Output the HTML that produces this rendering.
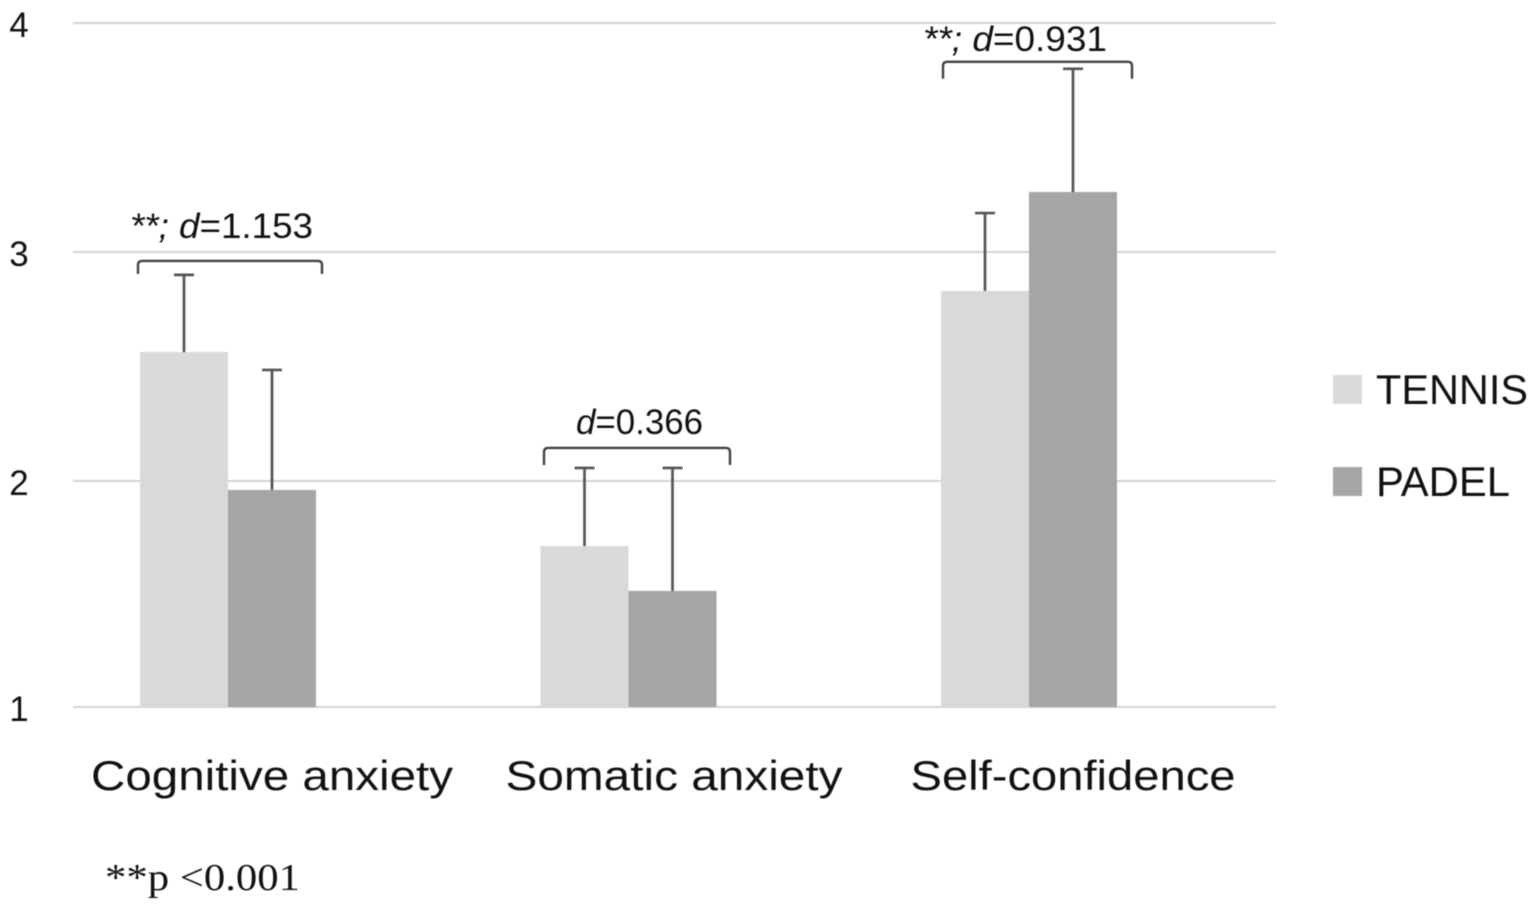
<!DOCTYPE html>
<html lang="en">
<head>
<meta charset="utf-8">
<title>Anxiety and self-confidence: tennis vs padel</title>
<style>
html,body{margin:0;padding:0;background:#fff;width:1535px;height:914px;overflow:hidden}
svg{display:block;filter:blur(0.6px)}
text{fill:#111;font-family:"Liberation Sans",sans-serif}
</style>
</head>
<body>
<svg id="chart" width="1535" height="914" viewBox="0 0 1535 914" xmlns="http://www.w3.org/2000/svg"></svg>
<script>
const categories = ["Cognitive anxiety", "Somatic anxiety", "Self-confidence"];
const tennisValues = [2.563, 1.716, 2.83];
const padelValues = [1.961, 1.52, 3.262];
const tennisErrorTops = [2.9, 2.057, 3.17];
const padelErrorTops = [2.485, 2.057, 3.8];
const tickLabels = ["1", "2", "3", "4"];
const gridValues = [2, 3, 4];
const seriesNames = ["TENNIS", "PADEL"];
const prefixes = ["**; ", "", "**; "];
const effectSizes = ["=1.153", "=0.366", "=0.931"];

const NS = "http://www.w3.org/2000/svg";
const svg = document.getElementById("chart");
const TENNIS = "#d9d9d9", PADEL = "#a5a5a5", ERR = "#555555", GRID = "#d4d4d4";
const BASE = 707, BAR_W = 88;

function y(v) { return 23 + (4 - v) * 229; }
function groupX(i) { return 140 + i * 400.5; }

function make(tag, attrs, text) {
  const el = document.createElementNS(NS, tag);
  for (const k in attrs) el.setAttribute(k, attrs[k]);
  if (text !== undefined) el.textContent = text;
  svg.appendChild(el);
  return el;
}

/* gridlines */
gridValues.forEach(function (v) {
  const g = make("line", { x1: 73, x2: 1276, y1: y(v), y2: y(v), stroke: GRID, "stroke-width": 2 });
  
  
});
const axisLine = make("line", { x1: 73, x2: 1276, y1: BASE, y2: BASE, stroke: GRID, "stroke-width": 2 });



/* y tick labels */
tickLabels.forEach(function (t, i) {
  const pos = i === 0 ? BASE : y(Number(t));
  const el = make("text", { x: 19, y: pos + 14, "text-anchor": "middle", "font-size": 35 }, t);
  
  
});

/* bars and error bars */
function drawSeries(values, errors, offset, color) {
  values.forEach(function (v, i) {
    const x = groupX(i) + offset;
    const top = y(v);
    const bar = make("rect", { x: x, y: top, width: BAR_W, height: BASE - top, fill: color });
    
    
    const cx = x + BAR_W / 2;
    const errTop = y(errors[i]);
    const stem = make("line", { x1: cx, x2: cx, y1: top, y2: errTop, stroke: ERR, "stroke-width": 2.7 });
    
    
    const cap = make("line", { x1: cx - 10, x2: cx + 10, y1: errTop, y2: errTop, stroke: ERR, "stroke-width": 2.7 });
    
    
  });
}
drawSeries(tennisValues, tennisErrorTops, 0, TENNIS);
drawSeries(padelValues, padelErrorTops, BAR_W, PADEL);

/* category labels */
const catWidths = [362, 337, 325];
categories.forEach(function (c, i) {
  const cx = [272, 674, 1073][i];
  const el = make("text", { x: cx, y: 790, "text-anchor": "middle", "font-size": 42, textLength: catWidths[i], lengthAdjust: "spacingAndGlyphs" }, c);
  
  
});

/* significance brackets anchored to each group's tallest error bar */
const bracketSpans = [[138, 322], [544, 730], [943, 1132]];
const bracketGap = [14, 20, 7];
const legHeight = [13, 17, 17];
const labelGap = [23, 14, 11];
const annotationStart = [130, 576, 923];
const annotationWidth = [183, 127, 184];
function drawBracket(i) {
  const x1 = bracketSpans[i][0], x2 = bracketSpans[i][1];
  const top = Math.min(y(tennisErrorTops[i]), y(padelErrorTops[i])) - bracketGap[i];
  const leg = top + legHeight[i];
  const d = "M" + x1 + " " + leg + "V" + (top + 4) + "Q" + x1 + " " + top + " " + (x1 + 4) + " " + top +
            "H" + (x2 - 4) + "Q" + x2 + " " + top + " " + x2 + " " + (top + 4) + "V" + leg;
  const b = make("path", { d: d, fill: "none", stroke: "#404040", "stroke-width": 2.4 });
  
  
  return top;
}
categories.forEach(function (c, i) {
  const top = drawBracket(i);
  const t = make("text", { x: annotationStart[i], y: top - labelGap[i], "font-size": 35, textLength: annotationWidth[i], lengthAdjust: "spacingAndGlyphs" });
  
  
  const s1 = document.createElementNS(NS, "tspan");
  s1.setAttribute("font-style", "italic");
  s1.textContent = prefixes[i] + "d";
  t.appendChild(s1);
  const s2 = document.createElementNS(NS, "tspan");
  s2.textContent = effectSizes[i];
  t.appendChild(s2);
});

/* legend */
const legendColors = [TENNIS, PADEL];
const legendWidths = [152, 134];
seriesNames.forEach(function (n, i) {
  const ly = 375 + i * 92;
  const sw = make("rect", { x: 1333, y: ly, width: 29, height: 29, fill: legendColors[i] });
  
  
  const lab = make("text", { x: 1376, y: ly + 29, "font-size": 42, textLength: legendWidths[i], lengthAdjust: "spacingAndGlyphs" }, n);
  
  
});

/* footnote */
const note = make("text", { x: 105, y: 890, "font-size": 38, textLength: 195, lengthAdjust: "spacingAndGlyphs", style: 'font-family:"Liberation Serif",serif' }, "**p <0.001");


</script>
</body>
</html>
